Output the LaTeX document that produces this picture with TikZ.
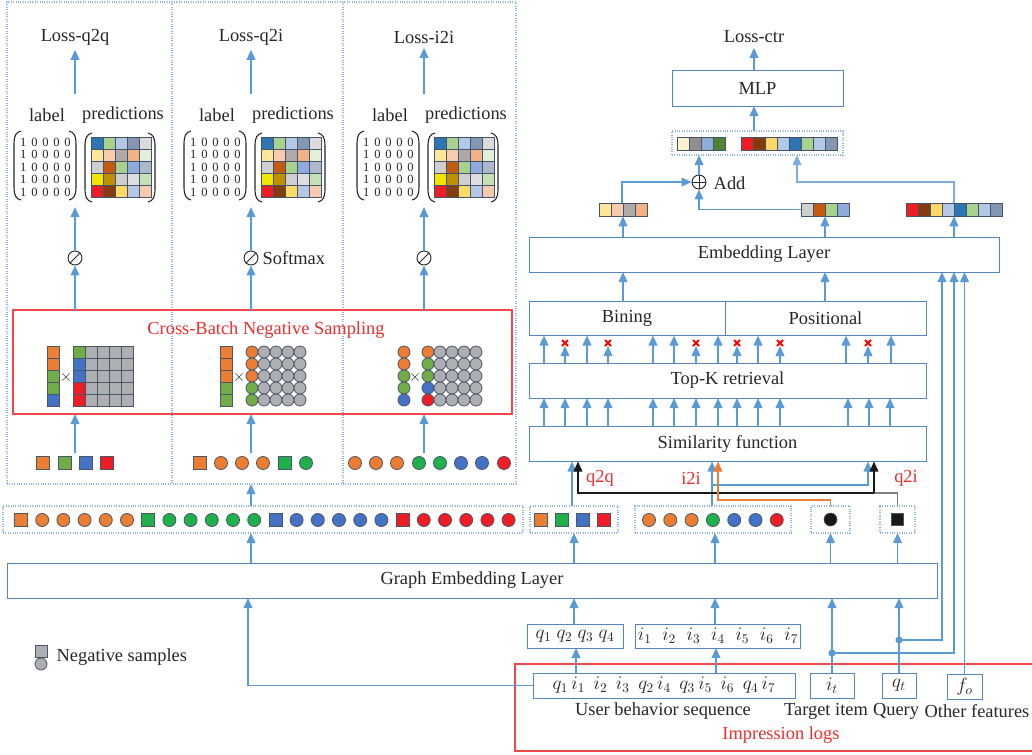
\documentclass[tikz,border=0pt]{standalone}
\usepackage{fontspec}
\setmainfont{Liberation Serif}
\usetikzlibrary{arrows.meta, calc, positioning}

\definecolor{arrblue}{HTML}{5B9BD5}
\definecolor{boxblue}{HTML}{5585C0}
\definecolor{dotblue}{HTML}{8EB4E3}
\definecolor{redT}{HTML}{EE2D2D}
\definecolor{redbx}{HTML}{F04848}
\definecolor{txtgray}{HTML}{262626}
\definecolor{tokedge}{HTML}{4A5568}
\definecolor{celledge}{HTML}{44546A}
% entity colours
\definecolor{eOra}{HTML}{ED7D31}
\definecolor{eGrn}{HTML}{70AD47}
\definecolor{eGrnB}{HTML}{1FAF4B}
\definecolor{eBlu}{HTML}{4472C4}
\definecolor{eRed}{HTML}{EE1C25}
\definecolor{eGry}{HTML}{AEAFB3}
% embedding cells
\definecolor{blueA}{HTML}{2E75B6}
\definecolor{grnL}{HTML}{A9D18E}
\definecolor{bluL}{HTML}{B4C7E7}
\definecolor{slateB}{HTML}{8497B0}
\definecolor{gryL}{HTML}{DBDBDB}
\definecolor{yelL}{HTML}{FFE699}
\definecolor{peach}{HTML}{F8CBAD}
\definecolor{gryM}{HTML}{AEAAAA}
\definecolor{oraL}{HTML}{F4B183}
\definecolor{grnVL}{HTML}{E2F0D9}
\definecolor{gryLL}{HTML}{D0CECE}
\definecolor{oraD}{HTML}{C55A11}
\definecolor{bluM}{HTML}{8FAADC}
\definecolor{slateL}{HTML}{ADB9CA}
\definecolor{yelB}{HTML}{F2E600}
\definecolor{goldD}{HTML}{BF9000}
\definecolor{gryX}{HTML}{DEDEDE}
\definecolor{grnL2}{HTML}{C5E0B4}
\definecolor{brownD}{HTML}{843C0C}
\definecolor{yelM}{HTML}{FFD966}
\definecolor{cream}{HTML}{FFF2CC}
\definecolor{gryD}{HTML}{8F8F8F}
\definecolor{grnD}{HTML}{548235}

% square / circle tokens
\newcommand{\sqtok}[3]{\filldraw[tok, fill=#1] (#2-6.5,#3-6.5) rectangle ++(13,13);}
\newcommand{\citok}[3]{\filldraw[tok, fill=#1] (#2,#3) circle[radius=4.9pt];}
% one row of the label matrix
\newcommand{\lblrow}{1\hspace{3.6pt}0\hspace{3.6pt}0\hspace{3.6pt}0\hspace{3.6pt}0}

\begin{document}
\begin{tikzpicture}[
    x=0.75pt, y=-0.75pt,
    >={Triangle[length=7.5pt, width=6.5pt]},
    font=\fontsize{13.8}{16}\selectfont,
    text=txtgray,
    sz/.style 2 args={minimum width=#1*0.75pt, minimum height=#2*0.75pt},
    box/.style={draw=boxblue, line width=0.7pt, inner sep=0pt, outer sep=0pt},
    dotbox/.style={draw=dotblue, densely dotted, line width=0.8pt, inner sep=0pt, outer sep=0pt},
    redbox/.style={draw=redbx, line width=0.8pt, inner sep=0pt, outer sep=0pt},
    arr/.style={->, draw=arrblue, line width=1.3pt},
    blkarr/.style={->, draw=black!90, line width=1.2pt},
    oraarr/.style={->, draw=eOra, line width=1pt},
    tok/.style={draw=tokedge, line width=0.6pt},
    cell/.style={draw=celledge, line width=0.5pt},
    paren/.style={draw=txtgray, line width=0.8pt},
    digits/.style={inner sep=0pt, align=center, font=\fontsize{9.4}{9.4}\selectfont},
    redtxt/.style={text=redT},
    op/.style={circle, draw=txtgray, line width=0.7pt, sz={14}{14}, inner sep=0pt}
]
    \useasboundingbox (0,0) rectangle (1032,754);

    % Three contrastive tasks
    \node[dotbox, sz={509}{482}] (panels) at (261.5,243) {};
    \draw[draw=dotblue, densely dotted, line width=0.8pt] (panels.north -| 172,0) -- (panels.south -| 172,0);
    \draw[draw=dotblue, densely dotted, line width=0.8pt] (panels.north -| 343,0) -- (panels.south -| 343,0);

    \node[redbox, sz={499}{104}] (cbns) at (262.5,362) {};
    \node[redtxt] (cbnstitle) at (266,330) {Cross-Batch Negative Sampling};

    \foreach \dx/\ax/\nm in {0/75/q2q, 170/251/q2i, 343/424/i2i} {
        \node (loss-\nm) at (\ax,37) {Loss-\nm};
        \coordinate (mtop-\nm) at (\ax,94);
        \draw[arr] (mtop-\nm) -- (loss-\nm);
        \node (lbl-\nm) at (47+\dx,115) {label};
        \node (prd-\nm) at (123+\dx,115) {predictions};
        % label matrix
        \node[digits] (lm-\nm) at (45.5+\dx,167) {\lblrow\\\lblrow\\\lblrow\\\lblrow\\\lblrow};
        % predictions matrix
        \foreach \row [count=\r from 0] in {{blueA,grnL,bluL,slateB,gryL},{yelL,peach,gryM,oraL,grnVL},{gryLL,oraD,grnL,bluM,slateL},{yelB,goldD,gryLL,gryX,grnL2},{eRed,brownD,yelM,bluL,peach}}
            \foreach \col [count=\c from 0] in \row
                \filldraw[cell, fill=\col] (91+\dx+12*\c,137+12*\r) rectangle ++(12,12);
        \foreach \xa/\xb/\ta/\tb in {14/21/131/200, 76/69/131/200, 85/92/133/202, 155/148/133/202}
            \draw[paren] ({\xb+\dx},\ta) .. controls ({\xb+0.7*(\xa-\xb)+\dx},\ta+1) and ({\xa+\dx},\ta+5) .. ({\xa+\dx},\ta+12)
                -- ({\xa+\dx},\tb-12) .. controls ({\xa+\dx},\tb-5) and ({\xb+0.7*(\xa-\xb)+\dx},\tb-1) .. ({\xb+\dx},\tb);
        \coordinate (mbot-\nm) at (\ax,207);
        \node[op] (sm-\nm) at (\ax,258) {};
        \draw[draw=txtgray, line width=0.7pt] (sm-\nm.45) -- (sm-\nm.225);
        \draw[arr] (sm-\nm) -- (mbot-\nm);
        \draw[arr] (cbns.north -| \ax,0) -- (sm-\nm);
        \coordinate (grp-\nm) at (\ax,453);
        \draw[arr] (grp-\nm) -- (cbns.south -| grp-\nm);
    }
    \node[anchor=west] (softmax) at (258,258) {Softmax};

    % q2q: squares x squares
    \foreach \col [count=\r from 0] in {eOra,eOra,eGrn,eGrn,eBlu}
        \filldraw[tok, fill=\col] (47,346+12*\r) rectangle ++(12,12);
    \node[inner sep=0pt, font=\fontsize{12}{12}\selectfont] (x1) at (66,377) {$\times$};
    \foreach \col [count=\r from 0] in {eGrn,eBlu,eBlu,eRed,eRed} {
        \filldraw[tok, fill=\col] (73,346+12*\r) rectangle ++(12,12);
        \foreach \c in {1,...,4}
            \filldraw[tok, fill=eGry] (73+12*\c,346+12*\r) rectangle ++(12,12);
    }
    % q2i: squares x circles
    \foreach \col [count=\r from 0] in {eOra,eOra,eOra,eGrn,eGrn}
        \filldraw[tok, fill=\col] (220,346+12*\r) rectangle ++(12,12);
    \node[inner sep=0pt, font=\fontsize{12}{12}\selectfont] (x2) at (239,377) {$\times$};
    \foreach \col [count=\r from 0] in {eOra,eOra,eOra,eGrn,eGrn} {
        \filldraw[tok, fill=\col] (252,352+12*\r) circle[radius=4.5pt];
        \foreach \c in {1,...,4}
            \filldraw[tok, fill=eGry] (252+12*\c,352+12*\r) circle[radius=4.5pt];
    }
    % i2i: circles x circles
    \foreach \col [count=\r from 0] in {eOra,eOra,eGrn,eGrn,eBlu}
        \filldraw[tok, fill=\col] (404,352+12*\r) circle[radius=4.5pt];
    \node[inner sep=0pt, font=\fontsize{12}{12}\selectfont] (x3) at (415,377) {$\times$};
    \foreach \col [count=\r from 0] in {eOra,eGrn,eGrn,eBlu,eRed} {
        \filldraw[tok, fill=\col] (428,352+12*\r) circle[radius=4.5pt];
        \foreach \c in {1,...,4}
            \filldraw[tok, fill=eGry] (428+12*\c,352+12*\r) circle[radius=4.5pt];
    }

    % sampled batches
    \foreach \s/\c/\x in {sq/eOra/43, sq/eGrn/65, sq/eBlu/86, sq/eRed/107,
        sq/eOra/200, ci/eOra/221, ci/eOra/242, ci/eOra/263, sq/eGrnB/285, ci/eGrnB/306,
        ci/eOra/355, ci/eOra/376, ci/eOra/397, ci/eGrnB/419, ci/eGrnB/440, ci/eBlu/461, ci/eBlu/482, ci/eRed/504}
        {\csname\s tok\endcsname{\c}{\x}{463}}

    % Graph embeddings
    \node[dotbox, sz={520}{27}] (allrow) at (263,519.5) {};
    \foreach \c [count=\k from 0] in {eOra,eGrnB,eBlu,eRed} {
        \sqtok{\c}{21+127.2*\k}{520}
        \foreach \j in {1,...,5}
            {\citok{\c}{21+127.2*\k+21.2*\j}{520}}
    }
    \draw[arr] (allrow.north -| 251,0) -- (panels.south -| 251,0);

    \node[dotbox, sz={88}{27}] (qrow) at (574,519.5) {};
    \foreach \c [count=\k from 0] in {eOra,eGrnB,eBlu,eRed}
        {\sqtok{\c}{541+21*\k}{520}}
    \node[dotbox, sz={156}{27}] (irow) at (713,519.5) {};
    \foreach \c [count=\k from 0] in {eOra,eOra,eOra,eGrnB,eBlu,eBlu,eRed}
        {\citok{\c}{649+21.3*\k}{520}}
    \node[dotbox, sz={39}{27}] (itrow) at (830.5,519.5) {};
    \filldraw[draw=tokedge, fill=black!90] (itrow) circle[radius=4.9pt];
    \node[dotbox, sz={35}{27}] (qtrow) at (897.5,519.5) {};
    \filldraw[draw=tokedge, fill=black!90] (891.5,513.5) rectangle ++(12,12);

    \node[box, sz={930}{35}] (gel) at (472,580.5) {Graph Embedding Layer};
    \draw[arr] (gel.north -| 251,0) -- (allrow.south -| 251,0);
    \draw[arr] (gel.north -| 574,0) -- (qrow.south -| 574,0);
    \draw[arr] (gel.north -| 715,0) -- (irow.south -| 715,0);
    \draw[arr] (gel.north -| itrow) -- (itrow.south);
    \draw[arr] (gel.north -| qtrow) -- (qtrow.south);

    % Inputs
    \node[box, sz={96}{24}] (qseq) at (575,636) {$q_1\;q_2\;q_3\;q_4$};
    \node[box, sz={165}{24}] (iseq) at (718,636) {$i_1\;\;i_2\;\;i_3\;\;i_4\;\;i_5\;\;i_6\;\;i_7$};
    \node[redbox, sz={525}{87}] (imp) at (777.5,707.5) {};
    \node[box, sz={262}{25}] (ubs) at (664,685.5) {$q_1\,i_1\;\,i_2\;\,i_3\;\,q_2\,i_4\;\,q_3\,i_5\;\,i_6\;\,q_4\,i_7$};
    \node[box, sz={44}{25}] (itin) at (832,685.5) {$i_t$};
    \node[box, sz={34}{25}] (qtin) at (899,685.5) {$q_t$};
    \node[box, sz={35}{25}] (foin) at (964.5,686.5) {$f_o$};
    \node (ubslbl) at (663,711) {User behavior sequence};
    \node (itlbl) at (826,711) {Target item};
    \node (qtlbl) at (896,711) {Query};
    \node (folbl) at (977,711) {Other features};
    \node[redtxt] (implbl) at (781,735) {Impression logs};

    \draw[arr] (ubs.north -| 576,0) -- (qseq.south -| 576,0);
    \draw[arr] (ubs.north -| 716,0) -- (iseq.south -| 716,0);
    \draw[arr] (qseq.north -| 574,0) -- (gel.south -| 574,0);
    \draw[arr] (iseq.north -| 715,0) -- (gel.south -| 715,0);
    \draw[arr] (ubs.west) -| (gel.south -| 248,0);
    \draw[arr] (itin.north) -- (itin.north |- gel.south);
    \draw[arr] (qtin.north) -- (qtin.north |- gel.south);
    \fill[arrblue] (itin.north |- 0,653) circle[radius=2.7pt];
    \draw[arr] (itin.north |- 0,653) -| (954,272);
    \fill[arrblue] (qtin.north |- 0,640) circle[radius=2.7pt];
    \draw[arr] (qtin.north |- 0,640) -| (942,272);
    \draw[arr] (foin.north) -- (foin.north |- 0,272);

    % Retrieval stack
    \node[box, sz={397}{35}] (sim) at (727.5,444) {Similarity function};
    \node[box, sz={397}{35}] (topk) at (727.5,380.5) {Top-K retrieval};
    \node[box, sz={196}{34}] (bin) at (627,318.5) {Bining};
    \node[box, sz={201}{34}] (pos) at (825.5,318.5) {Positional};
    \node[box, sz={470}{35}] (emb) at (764,254.5) {Embedding Layer};

    \foreach \x in {544,565,587,608,653,674,696,718,737,758,780,848,869,890}
        \draw[arr] (sim.north -| \x,0) -- (topk.south -| \x,0);
    \foreach \x in {544,587,653,674,718,758,846,891}
        \draw[arr] (topk.north -| \x,0) -- (bin.south -| \x,0);
    \foreach \x in {565,608,696,737,780,868} {
        \draw[arr] (topk.north -| \x,0) -- (\x,346);
        \draw[draw=red, line width=1.4pt] (\x-3,340) -- (\x+3,346) (\x-3,346) -- (\x+3,340);
    }
    \draw[arr] (bin.north -| 623,0) -- (emb.south -| 623,0);
    \draw[arr] (pos.north -| 825,0) -- (emb.south -| 825,0);

    % q2q / i2i / q2i queries
    \draw[arr] (qrow.north -| 572,0) -- (sim.south -| 572,0);
    \draw[arr] (irow.north -| 712,0) -- (sim.south -| 712,0);
    \coordinate (i2ij) at (712,485);
    \draw[arr] (i2ij) -| (sim.south -| 868,0);
    \coordinate (q2ij) at (874,493);
    \draw[draw=gray, line width=1.1pt] (qtrow.north) |- (q2ij);
    \draw[blkarr] (q2ij) -- (sim.south -| q2ij);
    \draw[blkarr] (q2ij) -- (q2ij -| 578,0) -- (sim.south -| 578,0);
    \draw[oraarr] (itrow.north) |- (718,500) -- (sim.south -| 718,0);
    \node[redtxt] (q2qlbl) at (600,478) {q2q};
    \node[redtxt] (i2ilbl) at (691,478) {i2i};
    \node[redtxt] (q2ilbl) at (906,478) {q2i};

    % CTR tower
    \node[inner sep=0pt, sz={48}{13}] (v1) at (623,209.5) {};
    \foreach \c [count=\i from 0] in {yelL,peach,gryM,oraL}
        \filldraw[cell, fill=\c] (599+12*\i,203) rectangle ++(12,13);
    \node[inner sep=0pt, sz={48}{13}] (v2) at (825,209.5) {};
    \foreach \c [count=\i from 0] in {gryLL,oraD,grnL,bluM}
        \filldraw[cell, fill=\c] (801+12*\i,203) rectangle ++(12,13);
    \node[inner sep=0pt, sz={96}{13}] (v3) at (954,209.5) {};
    \foreach \c [count=\i from 0] in {eRed,brownD,yelM,bluL,blueA,grnL,bluL,slateB}
        \filldraw[cell, fill=\c] (906+12*\i,203) rectangle ++(12,13);
    \draw[arr] (emb.north -| v1) -- (v1.south);
    \draw[arr] (emb.north -| v2) -- (v2.south);
    \draw[arr] (emb.north -| v3) -- (v3.south);

    \node[op] (add) at (699,182) {};
    \draw[draw=txtgray, line width=0.7pt] (add.north) -- (add.south) (add.west) -- (add.east);
    \node[anchor=west] (addlbl) at (709,183) {Add};

    \node[dotbox, sz={171}{24}] (concat) at (757.5,143) {};
    \foreach \c [count=\i from 0] in {cream,gryD,bluM,grnD}
        \filldraw[cell, fill=\c] (677+12*\i,137) rectangle ++(12,13);
    \foreach \c [count=\i from 0] in {eRed,brownD,yelM,bluL,blueA,grnL,bluL,slateB}
        \filldraw[cell, fill=\c] (741+12*\i,137) rectangle ++(12,13);

    \draw[arr] (v1.north -| 622,0) |- (add.west);
    \draw[arr] (v2.west) -| (add.south);
    \draw[arr] (add.north) -- (concat.south -| add.north);
    \draw[arr, draw=arrblue!80] (v3.north) -- (v3.north |- add) -| (concat.south -| 797,0);

    \node[box, sz={171}{36}] (mlp) at (757.5,88) {MLP};
    \node (lossctr) at (754,37) {Loss-ctr};
    \draw[arr] (concat.north -| 754,0) -- (mlp.south -| 754,0);
    \draw[arr] (mlp.north -| 754,0) -- (lossctr);

    % Legend
    \filldraw[tok, fill=eGry] (35,645) rectangle ++(12,12);
    \filldraw[tok, fill=eGry] (41,664) circle[radius=4.5pt];
    \node[anchor=west] (neglbl) at (52,657) {Negative samples};
\end{tikzpicture}
\end{document}
